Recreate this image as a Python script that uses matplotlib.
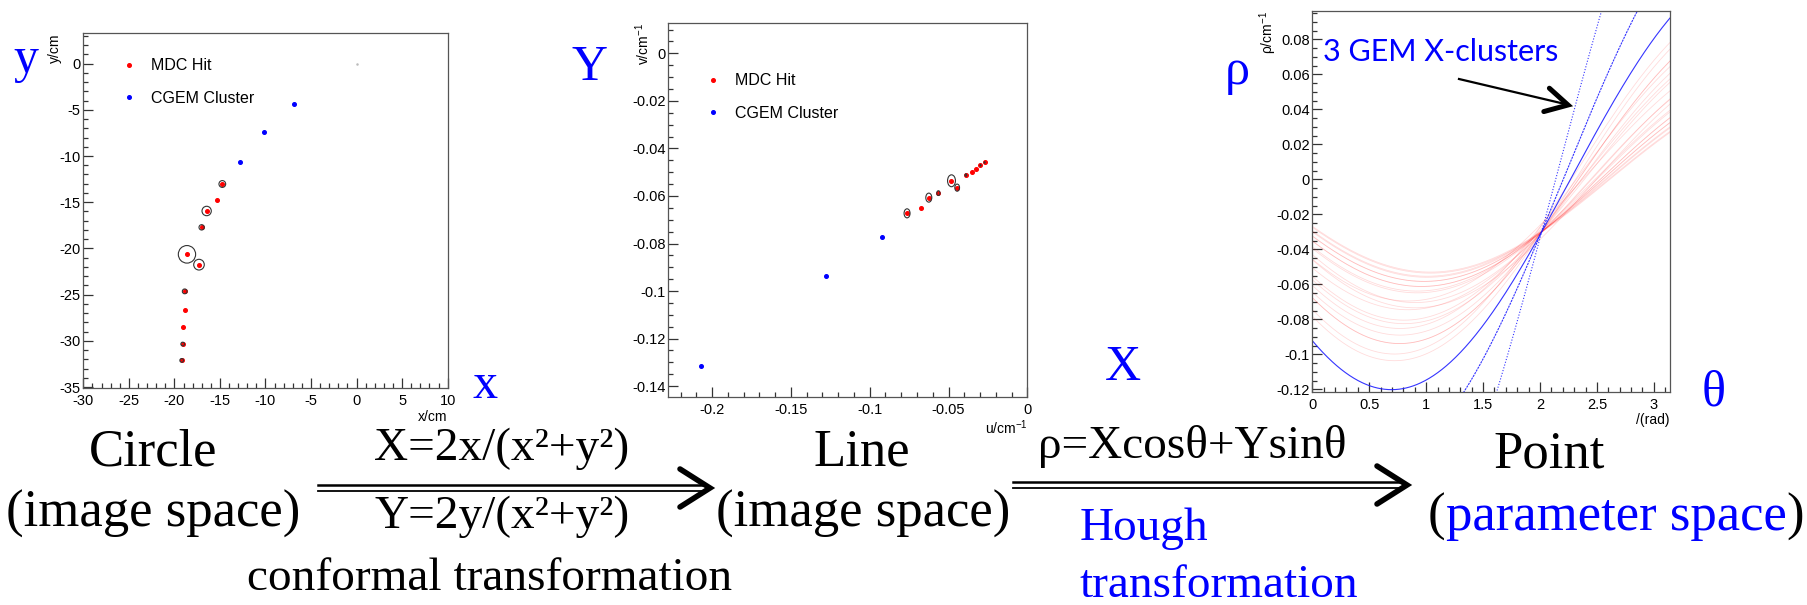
import numpy as np
import matplotlib.pyplot as plt
from matplotlib.patches import Circle
from matplotlib.lines import Line2D
from matplotlib.ticker import MultipleLocator, FuncFormatter

plt.rcParams['font.family'] = 'Liberation Sans'
plt.rcParams['axes.unicode_minus'] = False
plt.rcParams['mathtext.default'] = 'regular'

W, H = 1808, 605
SERIF = 'Liberation Serif'

# MDC hits and CGEM clusters in the x-y plane (cm), drift radius in cm
mdc_x = [-14.74, -15.36, -16.46, -17.01, -18.62, -17.30, -18.87, -18.80, -19.06, -19.09, -19.20]
mdc_y = [-13.03, -14.72, -15.95, -17.72, -20.64, -21.76, -24.65, -26.71, -28.47, -30.35, -32.12]
mdc_r = [0.37, 0.0, 0.51, 0.29, 0.95, 0.58, 0.26, 0.0, 0.0, 0.20, 0.20]
cgem_x = [-6.87, -10.16, -12.76]
cgem_y = [-4.37, -7.43, -10.68]

# the same hits in the conformal plane (cm^-1)
mdc_u = [-0.0763, -0.0676, -0.0625, -0.0564, -0.0481, -0.0445, -0.0390, -0.0352, -0.0324, -0.0297, -0.0271]
mdc_v = [-0.0673, -0.0651, -0.0607, -0.0588, -0.0536, -0.0565, -0.0512, -0.0501, -0.0485, -0.0471, -0.0459]
mdc_ruv = [0.0019, 0.0, 0.0019, 0.0010, 0.0025, 0.0015, 0.0005, 0.0, 0.0, 0.0003, 0.0003]
cgem_u = [-0.2070, -0.1280, -0.0922]
cgem_v = [-0.1316, -0.0938, -0.0771]
cgem_ls = [(0, (1, 1.6)), (0, (2, 0.8)), '-']


def fx(px):
    return px / W


def fy(py):
    return 1 - py / H


fig = plt.figure(figsize=(W / 100, H / 100), dpi=100)


def root_axes(l, t, r, b, xlim, ylim, xt, yt):
    ax = fig.add_axes([l / W, 1 - b / H, (r - l) / W, (b - t) / H])
    ax.set_xlim(*xlim)
    ax.set_ylim(*ylim)
    ax.xaxis.set_major_locator(MultipleLocator(xt[0]))
    ax.xaxis.set_minor_locator(MultipleLocator(xt[1]))
    ax.yaxis.set_major_locator(MultipleLocator(yt[0]))
    ax.yaxis.set_minor_locator(MultipleLocator(yt[1]))
    fmt = FuncFormatter(lambda v, p: '%g' % (round(v, 8) + 0.0))
    ax.xaxis.set_major_formatter(fmt)
    ax.yaxis.set_major_formatter(fmt)
    ax.tick_params(which='both', direction='in', top=False, right=False,
                   color='#333333', width=0.9, labelsize=10.5)
    ax.tick_params(which='major', length=7)
    ax.tick_params(which='minor', length=3.5)
    ax.tick_params(axis='y', pad=2)
    ax.tick_params(axis='x', pad=4)
    for s in ax.spines.values():
        s.set_color('#555555')
        s.set_linewidth(0.9)
    return ax


def hits_legend(ax, x, y):
    h = [Line2D([], [], ls='', marker='o', ms=2.6, color='red', label='MDC Hit'),
         Line2D([], [], ls='', marker='o', ms=2.6, color='blue', label='CGEM Cluster')]
    ax.legend(handles=h, loc='upper left', bbox_to_anchor=(x, y), frameon=False,
              fontsize=11.5, handlelength=1.0, handletextpad=0.9,
              labelspacing=1.1, borderpad=0, borderaxespad=0)


# circle in the x-y plane
ax1 = root_axes(83.3, 33.3, 447.7, 388.3, (-30, 10), (-35.14, 3.28), (5, 1), (5, 1))
ax1.plot([0], [0], ls='', marker='o', ms=0.8, color='#bbbbbb')
ax1.plot(mdc_x, mdc_y, ls='', marker='o', ms=2.6, color='red')
ax1.plot(cgem_x, cgem_y, ls='', marker='o', ms=2.6, color='blue')
for x, y, r in zip(mdc_x, mdc_y, mdc_r):
    if r > 0:
        ax1.add_patch(Circle((x, y), r, fill=False, ec='#333333', lw=0.8, zorder=3))
ax1.set_xlabel('x/cm', loc='right', fontsize=10)
ax1.xaxis.set_label_coords(1.0, -0.061)
ax1.set_ylabel('y/cm', loc='top', fontsize=10)
ax1.yaxis.set_label_coords(-0.058, 1.0)
hits_legend(ax1, 0.103, 0.93)

# line in the conformal plane
ax2 = root_axes(668.3, 22.7, 1027.3, 397.3, (-0.2278, 0.0), (-0.1447, 0.0129),
                (0.05, 0.01), (0.02, 0.005))
ax2.plot(mdc_u, mdc_v, ls='', marker='o', ms=2.6, color='red')
ax2.plot(cgem_u, cgem_v, ls='', marker='o', ms=2.6, color='blue')
for u, v, r in zip(mdc_u, mdc_v, mdc_ruv):
    if r > 0:
        ax2.add_patch(Circle((u, v), r, fill=False, ec='#333333', lw=0.8, zorder=3))
ax2.set_xlabel('u/cm$^{-1}$', loc='right', fontsize=10)
ax2.xaxis.set_label_coords(1.0, -0.056)
ax2.set_ylabel('v/cm$^{-1}$', loc='top', fontsize=10)
ax2.yaxis.set_label_coords(-0.045, 1.0)
hits_legend(ax2, 0.101, 0.865)

# Hough curves rho = u cos(theta) + v sin(theta), one per side of each drift circle
ax3 = root_axes(1312.3, 11, 1670, 392.3, (0, np.pi), (-0.1217, 0.0962),
                (0.5, 0.1), (0.02, 0.005))
theta = np.linspace(0, np.pi, 500)
for u, v, r in zip(mdc_u, mdc_v, mdc_ruv):
    for s in (1, -1):
        rho = u * np.cos(theta) + v * np.sin(theta) + s * r
        ax3.plot(theta, rho, color='red', alpha=0.14, lw=0.6)
for u, v, ls in zip(cgem_u, cgem_v, cgem_ls):
    ax3.plot(theta, u * np.cos(theta) + v * np.sin(theta), color='#1f1fff', lw=0.8, ls=ls,
             alpha=0.9)
ax3.set_xlabel('/(rad)', loc='right', fontsize=10)
ax3.xaxis.set_label_coords(1.0, -0.054)
ax3.set_ylabel('ρ/cm$^{-1}$', loc='top', fontsize=10)
ax3.yaxis.set_label_coords(-0.092, 1.0)
ax3.text(fx(1323), fy(61), '3 GEM X-clusters', transform=fig.transFigure,
         family='Lato', fontsize=22, color='blue', va='baseline')


def chevron(x0, y0, x1, y1, size, spread, lw):
    d = np.array([x1 - x0, y1 - y0], float)
    d /= np.hypot(*d)
    n = np.array([-d[1], d[0]])
    tip = np.array([x1, y1])
    a = tip - size * d + spread * n
    b = tip - size * d - spread * n
    fig.add_artist(Line2D([fx(a[0]), fx(x1), fx(b[0])], [fy(a[1]), fy(y1), fy(b[1])],
                          color='black', lw=lw, solid_capstyle='round',
                          solid_joinstyle='miter'))


def double_arrow(x0, x1, y):
    for dy, lw in ((-2.6, 1.8), (2.6, 1.3)):
        fig.add_artist(Line2D([fx(x0), fx(x1 - 7)], [fy(y + dy)] * 2, color='black', lw=lw))
    chevron(x0, y, x1, y, 30, 19, 4.0)


double_arrow(318, 710, 488)
double_arrow(1013, 1407, 485)

# pointer to the GEM curves
fig.add_artist(Line2D([fx(1459), fx(1565)], [fy(79), fy(104)], color='black', lw=1.6))
chevron(1459, 79, 1568, 105, 22, 12, 3.6)

serif = dict(family=SERIF, va='baseline')
big, mid = 38, 34

fig.text(fx(153), fy(465), 'Circle', ha='center', fontsize=big, **serif)
fig.text(fx(153), fy(527), '(image space)', ha='center', fontsize=big, **serif)
fig.text(fx(502), fy(460), 'X=2x/(x²+y²)', ha='center', fontsize=mid, **serif)
fig.text(fx(502), fy(528), 'Y=2y/(x²+y²)', ha='center', fontsize=mid, **serif)
fig.text(fx(490), fy(590), 'conformal transformation', ha='center', fontsize=mid, **serif)

fig.text(fx(862), fy(465), 'Line', ha='center', fontsize=big, **serif)
fig.text(fx(863), fy(527), '(image space)', ha='center', fontsize=big, **serif)
fig.text(fx(1192), fy(458), 'ρ=Xcosθ+Ysinθ', ha='center', fontsize=mid, **serif)
fig.text(fx(1080), fy(540), 'Hough', ha='left', color='blue', fontsize=mid, **serif)
fig.text(fx(1080), fy(597), 'transformation', ha='left', color='blue', fontsize=mid, **serif)

fig.text(fx(1549), fy(467), 'Point', ha='center', fontsize=big, **serif)
p_open = fig.text(fx(1428), fy(530), '(', ha='left', fontsize=big, **serif)
p_body = ax3.annotate('parameter space', xy=(1, 0), xycoords=p_open, ha='left', va='bottom',
                      family=SERIF, fontsize=big, color='blue', annotation_clip=False)
ax3.annotate(')', xy=(1, 0), xycoords=p_body, ha='left', va='bottom',
             family=SERIF, fontsize=big, color='black', annotation_clip=False)

# axis letters
axis_kw = dict(family=SERIF, fontsize=36, color='blue', va='baseline')
fig.text(fx(13), fy(72), 'y', ha='left', **axis_kw)
fig.text(fx(473), fy(398), 'x', ha='left', **axis_kw)
fig.text(fx(572), fy(80), 'Y', ha='left', **axis_kw)
fig.text(fx(1105), fy(380), 'X', ha='left', **axis_kw)
fig.text(fx(1250), fy(84), 'ρ', ha='right', **axis_kw)
fig.text(fx(1714), fy(405), 'θ', ha='center', **axis_kw)

fig.savefig('out.png', dpi=100)
